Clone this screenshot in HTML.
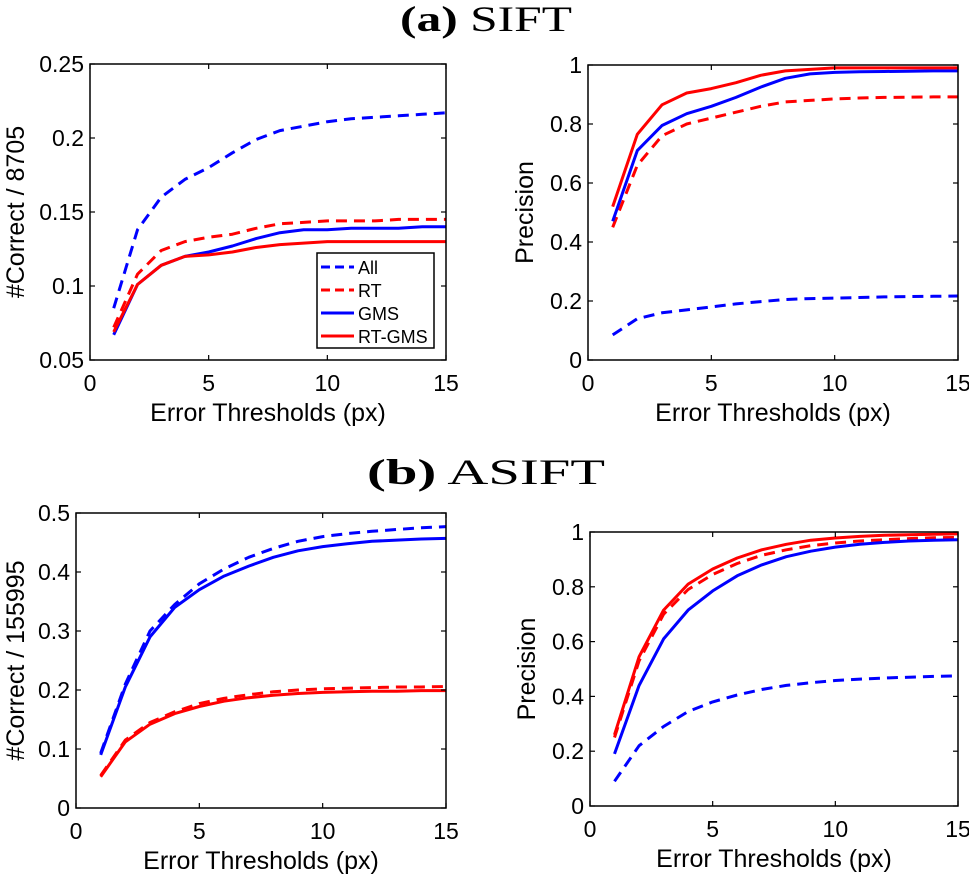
<!DOCTYPE html>
<html><head><meta charset="utf-8"><style>
body{margin:0;background:#fff}
svg{display:block;font-family:"Liberation Sans",sans-serif}
</style></head><body>
<svg id="fig" width="969" height="874" viewBox="0 0 969 874">
<text x="486" y="31" text-anchor="middle" font-family="Liberation Serif,serif" font-size="36" textLength="172" lengthAdjust="spacingAndGlyphs"><tspan font-weight="bold">(a)</tspan> SIFT</text>
<text x="486" y="484" text-anchor="middle" font-family="Liberation Serif,serif" font-size="36" textLength="238" lengthAdjust="spacingAndGlyphs"><tspan font-weight="bold">(b)</tspan> ASIFT</text>
</svg>
<script>
const xs=[1,2,3,4,5,6,7,8,9,10,11,12,13,14,15];
const xTicks=[0,5,10,15];
// (a) SIFT correct
const aAll=[0.085,0.138,0.160,0.172,0.180,0.190,0.199,0.205,0.208,0.211,0.213,0.214,0.215,0.216,0.217];
const aRT=[0.072,0.108,0.124,0.130,0.133,0.135,0.139,0.142,0.143,0.144,0.144,0.144,0.145,0.145,0.145];
const aGMS=[0.067,0.101,0.114,0.120,0.123,0.127,0.132,0.136,0.138,0.138,0.139,0.139,0.139,0.140,0.140];
const aRTGMS=[0.069,0.101,0.114,0.120,0.121,0.123,0.126,0.128,0.129,0.130,0.130,0.130,0.130,0.130,0.130];
const aTicks=["0.05","0.1","0.15","0.2","0.25"];
// (a) SIFT precision
const apAll=[0.085,0.14,0.16,0.17,0.18,0.19,0.198,0.205,0.208,0.21,0.212,0.214,0.215,0.216,0.217];
const apRT=[0.45,0.66,0.76,0.80,0.82,0.84,0.86,0.875,0.88,0.885,0.888,0.89,0.891,0.892,0.892];
const apGMS=[0.47,0.71,0.795,0.835,0.86,0.89,0.925,0.955,0.97,0.975,0.977,0.978,0.979,0.98,0.98];
const apRTGMS=[0.52,0.765,0.865,0.905,0.92,0.94,0.965,0.98,0.985,0.99,0.99,0.99,0.99,0.99,0.99];
const precTicks=["0","0.2","0.4","0.6","0.8","1"];
// (b) ASIFT correct
const bAll=[0.093,0.21,0.30,0.345,0.38,0.405,0.425,0.44,0.452,0.46,0.465,0.469,0.472,0.475,0.477];
const bRT=[0.055,0.115,0.145,0.163,0.177,0.186,0.192,0.197,0.2,0.202,0.203,0.204,0.205,0.205,0.206];
const bGMS=[0.09,0.205,0.29,0.34,0.37,0.393,0.41,0.425,0.436,0.443,0.448,0.452,0.454,0.456,0.457];
const bRTGMS=[0.053,0.112,0.142,0.16,0.172,0.181,0.187,0.191,0.194,0.196,0.197,0.198,0.198,0.199,0.199];
const bTicks=["0","0.1","0.2","0.3","0.4","0.5"];
// (b) ASIFT precision
const bpAll=[0.09,0.22,0.29,0.345,0.38,0.405,0.425,0.44,0.45,0.458,0.463,0.467,0.47,0.473,0.475];
const bpRT=[0.25,0.53,0.70,0.79,0.845,0.885,0.915,0.935,0.95,0.96,0.967,0.972,0.976,0.979,0.98];
const bpGMS=[0.19,0.44,0.61,0.715,0.785,0.84,0.88,0.91,0.93,0.945,0.955,0.962,0.967,0.97,0.972];
const bpRTGMS=[0.26,0.545,0.715,0.81,0.865,0.905,0.935,0.955,0.97,0.978,0.984,0.988,0.99,0.992,0.993];

const NS="http://www.w3.org/2000/svg";
const svg=document.getElementById('fig');
function mk(tag,attrs,parent){const e=document.createElementNS(NS,tag);for(const k in attrs)e.setAttribute(k,attrs[k]);(parent||svg).appendChild(e);return e;}

function panel(id,L,R,T,B,yTickLabels,ylabel,series,legend){
  const g=mk('g',{});
  
  
  const y0=+yTickLabels[0],y1=+yTickLabels[yTickLabels.length-1];
  const sx=v=>L+(v-0)/(15-0)*(R-L);
  const sy=v=>B-(v-y0)/(y1-y0)*(B-T);
  series.forEach(s=>{
    const d=xs.map((x,i)=>(i?'L':'M')+sx(x).toFixed(1)+','+sy(s.v[i]).toFixed(1)).join('');
    const p=mk('path',{d:d,fill:'none',stroke:s.c,'stroke-width':3,'stroke-dasharray':s.dash?'11,7':'none','stroke-linejoin':'round'},g);
    
    
  });
  const box=mk('rect',{x:L,y:T,width:R-L,height:B-T,fill:'none',stroke:'#000','stroke-width':1.5},g);
  
  
  xTicks.forEach(t=>{
    const x=sx(t);
    mk('line',{x1:x,x2:x,y1:B,y2:B-5,stroke:'#000','stroke-width':1.2},g);
    mk('line',{x1:x,x2:x,y1:T,y2:T+5,stroke:'#000','stroke-width':1.2},g);
    const tx=mk('text',{x:x,y:B+31,'text-anchor':'middle','font-size':23},g);
    tx.textContent=t;
    
    
  });
  yTickLabels.forEach(t=>{
    const y=sy(+t);
    mk('line',{x1:L,x2:L+5,y1:y,y2:y,stroke:'#000','stroke-width':1.2},g);
    mk('line',{x1:R,x2:R-5,y1:y,y2:y,stroke:'#000','stroke-width':1.2},g);
    const tx=mk('text',{x:L-6,y:y+8,'text-anchor':'end','font-size':23},g);
    tx.textContent=t;
    
    
  });
  const xl=mk('text',{x:(L+R)/2,y:B+61,'text-anchor':'middle','font-size':25},g);
  xl.textContent='Error Thresholds (px)';
  
  
  const yx=id.endsWith('precision')?L-55:24;
  const yl=mk('text',{x:0,y:0,'text-anchor':'middle','font-size':25,transform:`translate(${yx},${(T+B)/2}) rotate(-90)`},g);
  yl.textContent=ylabel;
  
  
  if(legend){
    const lg=mk('g',{},g);
    
    
    mk('rect',{x:317,y:253,width:117,height:95,fill:'#fff',stroke:'#000','stroke-width':1.5},lg);
    series.forEach((s,i)=>{
      const y=267+i*23;
      mk('line',{x1:321,x2:354,y1:y,y2:y,stroke:s.c,'stroke-width':3,'stroke-dasharray':s.dash?'9,5':'none'},lg);
      const t=mk('text',{x:358,y:y+7,'font-size':18},lg);
      t.textContent=s.n;
      
      
    });
  }
}
const B='#0000ff',Rr='#ff0000';
panel('sift-correct',90,446,64,360,aTicks,'#Correct / 8705',[
 {n:'All',v:aAll,c:B,dash:1},{n:'RT',v:aRT,c:Rr,dash:1},{n:'GMS',v:aGMS,c:B},{n:'RT-GMS',v:aRTGMS,c:Rr}],true);
panel('sift-precision',588,958,65,360,precTicks,'Precision',[
 {n:'All',v:apAll,c:B,dash:1},{n:'RT',v:apRT,c:Rr,dash:1},{n:'GMS',v:apGMS,c:B},{n:'RT-GMS',v:apRTGMS,c:Rr}]);
panel('asift-correct',76,446,513,808,bTicks,'#Correct / 155995',[
 {n:'All',v:bAll,c:B,dash:1},{n:'RT',v:bRT,c:Rr,dash:1},{n:'GMS',v:bGMS,c:B},{n:'RT-GMS',v:bRTGMS,c:Rr}]);
panel('asift-precision',590,958,532,806,precTicks,'Precision',[
 {n:'All',v:bpAll,c:B,dash:1},{n:'RT',v:bpRT,c:Rr,dash:1},{n:'GMS',v:bpGMS,c:B},{n:'RT-GMS',v:bpRTGMS,c:Rr}]);
</script>
</body></html>
